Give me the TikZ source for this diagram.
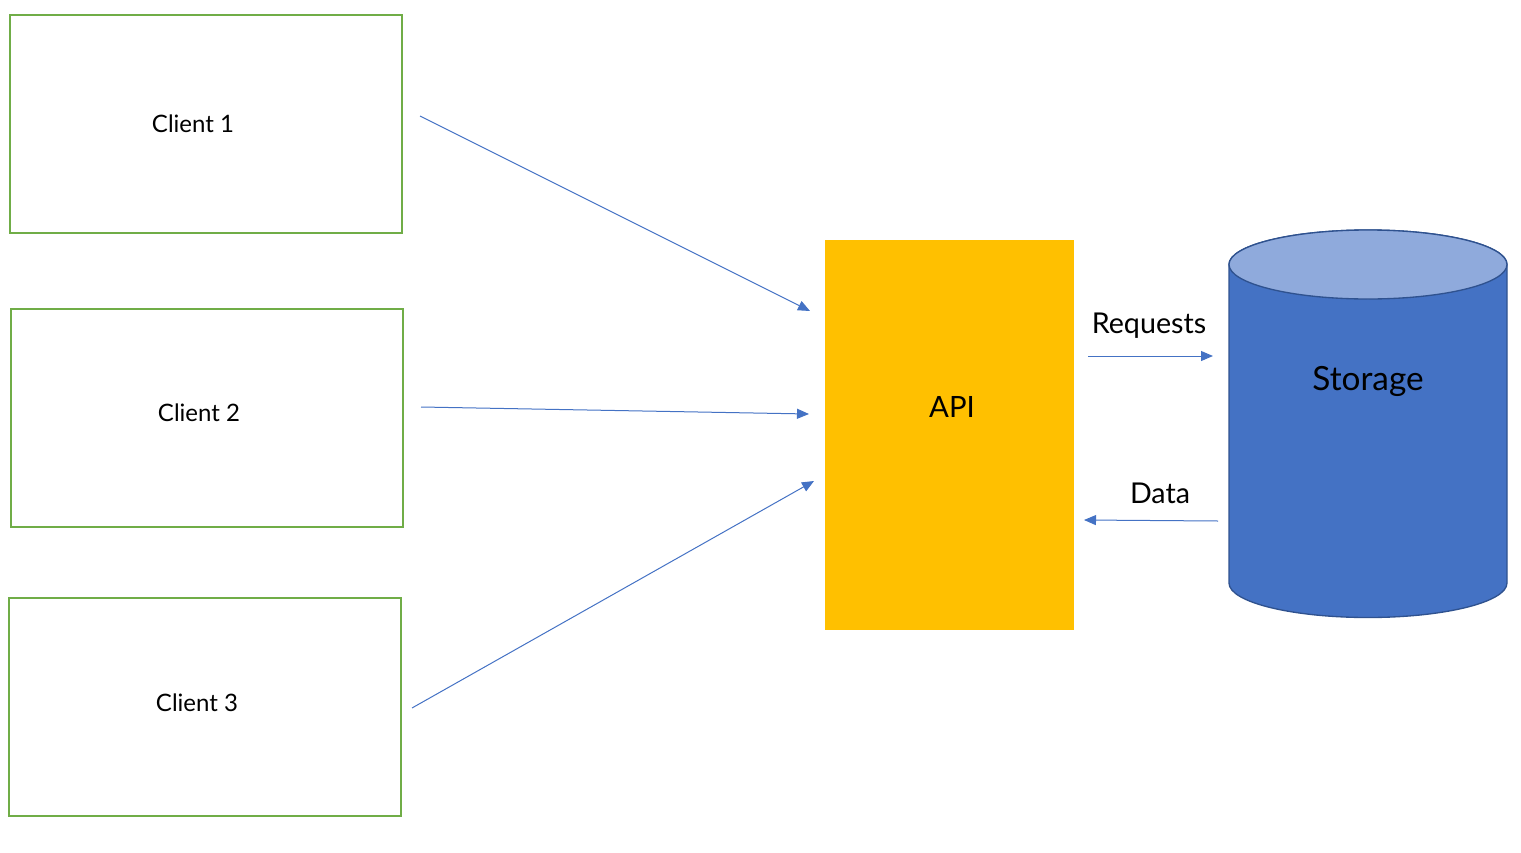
\documentclass[tikz,border=0pt]{standalone}
\usepackage{fontspec}
\setmainfont{Lato}
\usetikzlibrary{arrows.meta}
\definecolor{cgreen}{HTML}{70AD47}
\definecolor{cblue}{HTML}{4472C4}
\definecolor{ctop}{HTML}{8FAADC}
\definecolor{cedge}{HTML}{2F528F}
\definecolor{capi}{HTML}{FFC000}
\tikzset{
  clientbox/.style={draw=cgreen, line width=1.5pt, minimum width=294pt, minimum height=163.5pt, inner sep=0pt},
  lbl/.style={font=\fontsize{18}{20}\selectfont, inner sep=0pt},
  conn/.style={draw=cblue, line width=0.75pt, -{Triangle[length=9pt,width=7.5pt]}},
}
\begin{document}
\begin{tikzpicture}[x=0.75pt,y=-0.75pt]
\useasboundingbox (0,0) rectangle (1521,853);
% clients
\node[clientbox] (cl1) at (206,124) {};
\node[clientbox] (cl2) at (207,418) {};
\node[clientbox] (cl3) at (205,707) {};
\node[lbl] (t1) at (193,124) {Client 1};
\node[lbl] (t2) at (199,413) {Client 2};
\node[lbl] (t3) at (197,703) {Client 3};
% api
\node[fill=capi, minimum width=186.75pt, minimum height=292.5pt, inner sep=0pt] (api) at (949.5,435) {};
\node[lbl, font=\fontsize{22}{24}\selectfont] (tapi) at (952,407) {API};
% storage cylinder
\fill[cblue, draw=cedge, line width=1pt] (1229,264.5) -- (1229,583) arc[start angle=180,end angle=0,x radius=139,y radius=34.5] -- (1507,264.5) arc[start angle=0,end angle=-180,x radius=139,y radius=34.5] -- cycle;
\draw[fill=ctop, draw=cedge, line width=1pt] (1368,264.5) ellipse[x radius=139,y radius=34.5];
\node[lbl, font=\fontsize{25}{28}\selectfont] (stor) at (1368,381) {Storage};
% connector ends
\coordinate (s1) at (420,116);
\coordinate (e1) at (810,311);
\coordinate (s2) at (421,407);
\coordinate (e2) at (809,414);
\coordinate (s3) at (412,708);
\coordinate (e3) at (814,481);
\coordinate (rq1) at (1088,356);
\coordinate (rq2) at (1213,356);
\coordinate (dt1) at (1218,521);
\coordinate (dt2) at (1084,520);
\draw[conn] (s1) -- (e1);
\draw[conn] (s2) -- (e2);
\draw[conn] (s3) -- (e3);
\draw[conn] (rq1) -- (rq2);
\draw[conn] (dt1) -- (dt2);
\node[lbl, font=\fontsize{21.5}{24}\selectfont] (treq) at (1149,326) {Requests};
\node[lbl, font=\fontsize{21.5}{24}\selectfont] (tdat) at (1160,493) {Data};
\end{tikzpicture}
\end{document}
